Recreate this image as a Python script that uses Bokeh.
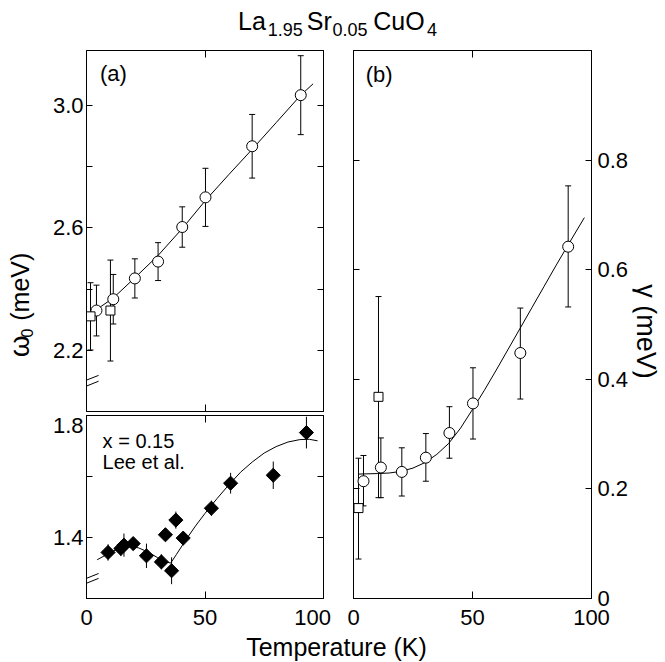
import numpy as np
from bokeh.plotting import figure
from bokeh.layouts import column, row
from bokeh.models import (Range1d, LinearAxis, FixedTicker, Whisker, TeeHead,
                          ColumnDataSource, Label, Arrow, PrintfTickFormatter)
from bokeh.embed import file_html
from bokeh.resources import INLINE

FONT = "Liberation Sans"
TICK_FS = "22px"

# ---------------- data ----------------
# panel (a) top: x = 0.05, omega_0 (meV)
a_circ_T = [4.2, 11.3, 20.4, 30.2, 40.4, 50.2, 69.9, 90.4]
a_circ_w = [2.330, 2.367, 2.435, 2.490, 2.603, 2.700, 2.867, 3.034]
a_circ_err = [0.083, 0.081, 0.064, 0.062, 0.066, 0.095, 0.104, 0.129]
a_sq_T = [1.7, 10.1]
a_sq_w = [2.311, 2.330]
a_sq_err = [0.110, 0.165]
a_fit_T = [1.7, 4.2, 11.3, 20.4, 30.2, 40.4, 50.2, 60.0, 69.9, 80.0, 90.4, 95.6]
a_fit_w = [2.316, 2.333, 2.371, 2.437, 2.510, 2.598, 2.690, 2.774, 2.857, 2.944, 3.034, 3.071]

# panel (a) bottom: x = 0.15, Lee et al.
lee_T = [9.1, 14.5, 15.8, 19.7, 25.3, 31.6, 33.3, 35.9, 37.7, 40.8, 52.7, 60.8, 78.8, 92.8]
lee_w = [1.351, 1.364, 1.375, 1.380, 1.340, 1.320, 1.409, 1.291, 1.457, 1.398, 1.496, 1.578, 1.604, 1.744]
lee_err = [0.027, 0.025, 0.038, 0.020, 0.040, 0.025, 0.020, 0.044, 0.028, 0.022, 0.025, 0.034, 0.045, 0.052]
lee_fit_T = [4.5, 8, 12, 16, 19, 22, 26, 30, 33, 35.5, 38, 42, 46, 50, 55, 60, 65, 70, 75, 80, 85, 90, 94, 97.5]
lee_fit_w = [1.327, 1.342, 1.358, 1.367, 1.369, 1.366, 1.352, 1.334, 1.322, 1.316, 1.345, 1.393,
             1.438, 1.479, 1.527, 1.572, 1.614, 1.648, 1.677, 1.698, 1.713, 1.721, 1.722, 1.717]

# panel (b): gamma (meV)
b_circ_T = [4.2, 11.5, 20.3, 30.4, 40.3, 50.2, 70.1, 90.2]
b_circ_g = [0.214, 0.239, 0.231, 0.257, 0.302, 0.356, 0.448, 0.642]
b_circ_lo = [0.169, 0.184, 0.187, 0.214, 0.256, 0.291, 0.364, 0.532]
b_circ_hi = [0.261, 0.293, 0.275, 0.301, 0.350, 0.421, 0.530, 0.753]
b_sq_T = [2.1, 10.5]
b_sq_g = [0.165, 0.368]
b_sq_lo = [0.072, 0.184]
b_sq_hi = [0.256, 0.551]
b_fit_T = [2, 10, 15, 20, 25, 30, 35, 40, 45, 50, 55, 60, 65, 70, 75, 80, 85, 90, 97]
b_fit_g = [0.227, 0.228, 0.229, 0.232, 0.238, 0.248, 0.263, 0.283, 0.311, 0.345, 0.380, 0.417,
           0.455, 0.493, 0.531, 0.569, 0.607, 0.644, 0.695]

x_ticks = [0, 50, 100]
a_top_major = [2.2, 2.6, 3.0]
a_top_minor = [2.4, 2.8]
a_bot_ticks = [1.4, 1.6, 1.8]
a_bot_label_pos = {1.4: "1.4", 1.768: "1.8"}   # "1.8" sits just below the panel top
a_x_label_pos = {0: "0", 50: "50", 95.4: "100"}  # "100" nudged left of panel edge
b_major = [0, 0.2, 0.4, 0.6, 0.8]


# ---------------- helpers ----------------
def base_fig(w, h, xr, yr, bl, br, bt, bb):
    p = figure(width=w, height=h, x_range=Range1d(*xr), y_range=Range1d(*yr),
               output_backend="svg", toolbar_location=None, title=None,
               x_axis_location=None, y_axis_location=None,
               min_border_left=bl, min_border_right=br,
               min_border_top=bt, min_border_bottom=bb)
    p.grid.visible = False
    p.outline_line_color = "black"
    p.outline_line_width = 1
    p.background_fill_color = "white"
    p.border_fill_color = "white"
    return p


def strip_fig(w, h):
    p = figure(width=w, height=h, x_range=Range1d(0, w), y_range=Range1d(0, h),
               output_backend="svg", toolbar_location=None, title=None,
               x_axis_location=None, y_axis_location=None,
               min_border_left=0, min_border_right=0, min_border_top=0, min_border_bottom=0)
    p.grid.visible = False
    p.outline_line_color = None
    p.border_fill_color = "white"
    return p


def add_axis(p, side, ticks, minor=None, labels=False, overrides=None,
             tick_len=6, standoff=5, fmt=None, hide_major=False):
    ax = LinearAxis(ticker=FixedTicker(ticks=ticks, minor_ticks=minor or []))
    if fmt:
        ax.formatter = PrintfTickFormatter(format=fmt)
    ax.major_tick_in = tick_len
    ax.major_tick_out = 0
    ax.minor_tick_in = tick_len
    ax.minor_tick_out = 0
    ax.axis_line_color = "black"
    ax.major_tick_line_color = None if hide_major else "black"
    ax.minor_tick_line_color = "black"
    if labels:
        ax.major_label_text_font = FONT
        ax.major_label_text_font_size = TICK_FS
        ax.major_label_text_color = "black"
        ax.major_label_standoff = standoff
    else:
        ax.major_label_text_color = None
        ax.major_label_standoff = 0
    if overrides:
        ax.major_label_overrides = overrides
    p.add_layout(ax, side)
    return ax


def whisk(p, T, lo, hi, heads=True):
    src = ColumnDataSource(dict(T=T, lo=lo, hi=hi))
    kw = {}
    if heads:
        kw["upper_head"] = TeeHead(size=6, line_color="black", line_width=1)
        kw["lower_head"] = TeeHead(size=6, line_color="black", line_width=1)
    else:
        kw["upper_head"] = None
        kw["lower_head"] = None
    w = Whisker(source=src, base="T", lower="lo", upper="hi", dimension="height",
                line_color="black", line_width=1, level="underlay", **kw)
    p.add_layout(w)


def lab(p, x, y, text, size, angle=0, align="left"):
    p.add_layout(Label(x=x, y=y, text=text, text_font=FONT, text_font_size=size,
                       text_color="black", angle=angle, text_align=align,
                       text_baseline="middle"))


def brk(p, x0, y0, x1, y1):
    p.add_layout(Arrow(x_start=x0, y_start=y0, x_end=x1, y_end=y1, end=None, start=None,
                       line_color="black", line_width=1))


# ---------------- title strip (y measured upward from strip bottom) ----------------
title_fig = strip_fig(664, 46)
lab(title_fig, 237.5, 25.4, "La", "25px")
lab(title_fig, 267.2, 17.3, "1.95", "18px")
lab(title_fig, 306.3, 25.4, "Sr", "25px")
lab(title_fig, 332.0, 17.3, "0.05", "18px")
lab(title_fig, 372.8, 25.4, "CuO", "25px")
lab(title_fig, 426.4, 17.3, "4", "18px")

# ---------------- left strip: omega_0 (meV) ----------------
ylab_fig = strip_fig(40, 586)
lab(ylab_fig, 19.0, 258, "\u03c9", "28px", angle=np.pi / 2)
lab(ylab_fig, 26.4, 279, "0", "16px", angle=np.pi / 2)
lab(ylab_fig, 19.0, 297, "(meV)", "25px", angle=np.pi / 2)

# ---------------- right strip: gamma (meV) ----------------
gam_fig = strip_fig(32, 586)
lab(gam_fig, 13, 336, "\u03b3 (meV)", "27px", angle=-np.pi / 2, align="left")

# ---------------- panel (a) top ----------------
fa = base_fig(298, 366, (0, 100), (2.0, 3.18), 46, 15, 4, 1)
add_axis(fa, "left", a_top_major, a_top_minor, labels=True, standoff=3, fmt="%.1f")
add_axis(fa, "right", a_top_major, a_top_minor)
add_axis(fa, "above", x_ticks, tick_len=7)
add_axis(fa, "below", x_ticks, tick_len=7)
fa.line(a_fit_T, a_fit_w, line_color="black", line_width=1)
whisk(fa, a_circ_T, [w - e for w, e in zip(a_circ_w, a_circ_err)],
      [w + e for w, e in zip(a_circ_w, a_circ_err)])
whisk(fa, a_sq_T, [w - e for w, e in zip(a_sq_w, a_sq_err)],
      [w + e for w, e in zip(a_sq_w, a_sq_err)])
fa.scatter(a_circ_T, a_circ_w, marker="circle", size=11, fill_color="white",
           line_color="black", line_width=1)
fa.scatter(a_sq_T, a_sq_w, marker="square", size=9, fill_color="white",
           line_color="black", line_width=1)
lab(fa, 5.7, 3.104, "(a)", "22px")
brk(fa, -5.5, 2.066, 5.1, 2.099)
brk(fa, -5.5, 2.086, 5.1, 2.118)

# ---------------- panel (a) bottom ----------------
fb = base_fig(298, 220, (0, 100), (1.2, 1.8), 46, 15, 3, 34)
add_axis(fb, "left", list(a_bot_label_pos.keys()), a_bot_ticks, labels=True, standoff=3,
         overrides=a_bot_label_pos, hide_major=True)
add_axis(fb, "right", a_bot_ticks)
add_axis(fb, "above", x_ticks, tick_len=7)
add_axis(fb, "below", list(a_x_label_pos.keys()), x_ticks, labels=True, tick_len=7,
         standoff=11, overrides=a_x_label_pos, hide_major=True)
fb.line(lee_fit_T, lee_fit_w, line_color="black", line_width=1)
whisk(fb, lee_T, [w - e for w, e in zip(lee_w, lee_err)],
      [w + e for w, e in zip(lee_w, lee_err)], heads=False)
fb.scatter(lee_T, lee_w, marker="square", angle=np.pi / 4, size=10,
           fill_color="black", line_color="black")
lab(fb, 6.8, 1.717, "x = 0.15", "20px")
lab(fb, 6.8, 1.648, "Lee et al.", "20px")
brk(fb, -5.5, 1.233, 5.1, 1.266)
brk(fb, -5.5, 1.249, 5.1, 1.282)

# ---------------- panel (b) ----------------
fc = base_fig(294, 586, (0, 100), (0, 1.0), 15, 41, 4, 34)
add_axis(fc, "left", b_major)
add_axis(fc, "right", b_major, labels=True, standoff=6, overrides={0: "0"}, fmt="%.1f")
add_axis(fc, "above", x_ticks, tick_len=7)
add_axis(fc, "below", x_ticks, labels=True, tick_len=7, standoff=11)
fc.line(b_fit_T, b_fit_g, line_color="black", line_width=1)
whisk(fc, b_circ_T, b_circ_lo, b_circ_hi)
whisk(fc, b_sq_T, b_sq_lo, b_sq_hi)
fc.scatter(b_circ_T, b_circ_g, marker="circle", size=11, fill_color="white",
           line_color="black", line_width=1)
fc.scatter(b_sq_T, b_sq_g, marker="square", size=9, fill_color="white",
           line_color="black", line_width=1)
lab(fc, 5.1, 0.9557, "(b)", "22px")

# ---------------- x label strip ----------------
xlab_fig = strip_fig(664, 29)
lab(xlab_fig, 336, 14.75, "Temperature (K)", "25px", align="center")

layout = column(title_fig,
                row(ylab_fig, column(fa, fb), fc, gam_fig),
                xlab_fig)

open("out.html", "w").write(file_html(layout, INLINE))
